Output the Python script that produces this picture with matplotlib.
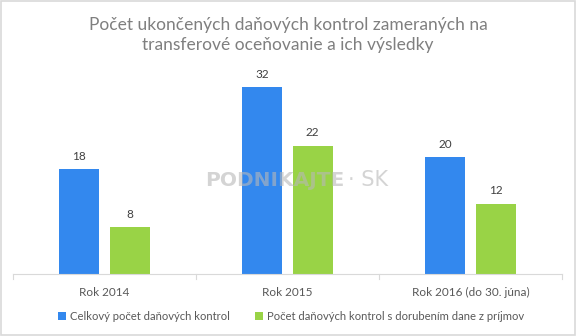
import matplotlib
matplotlib.use("Agg")
import matplotlib.pyplot as plt
from matplotlib.patches import Rectangle
import numpy as np

plt.rcParams['font.family'] = ['Lato', 'DejaVu Sans']

categories = ["Rok 2014", "Rok 2015", "Rok 2016 (do 30. júna)"]
series_names = ["Celkový počet daňových kontrol", "Počet daňových kontrol s dorubením dane z príjmov"]
total = [18, 32, 20]
with_tax = [8, 22, 12]
colors = ["#3388ee", "#99d346"]
title = "Počet ukončených daňových kontrol zameraných na\ntransferové oceňovanie a ich výsledky"

fig = plt.figure(figsize=(5.76, 3.36), dpi=100)
fig.patches.append(Rectangle((0.002, 0.003), 0.996, 0.994, transform=fig.transFigure,
                             fill=False, edgecolor="#d9d9d9", linewidth=1.2))
ax = fig.add_axes([13/576, 1-274/336, 549/576, (274-70)/336])

x = np.arange(len(categories))
w = 0.218
off = 0.137
b1 = ax.bar(x - off, total, w, color=colors[0], label=series_names[0])
b2 = ax.bar(x + off, with_tax, w, color=colors[1], label=series_names[1])
for bars in (b1, b2):
    for r in bars:
        ax.text(r.get_x() + r.get_width()/2, r.get_height() + 1.3, f"{int(r.get_height())}",
                ha="center", va="bottom", fontsize=8.5, color="#404040")

ax.set_xlim(-0.5, 2.5)
ax.set_ylim(0, 35)
ax.set_yticks([])
ax.set_xticks(x)
ax.set_xticklabels(categories, fontsize=8.5, color="#595959")
ax.tick_params(axis="x", length=0, pad=9)
for s in ["top", "right", "left"]:
    ax.spines[s].set_visible(False)
ax.spines["bottom"].set_color("#d9d9d9")
for b in [-0.5, 0.5, 1.5, 2.5]:
    ax.plot([b, b], [0, -0.9], color="#d9d9d9", lw=0.8, clip_on=False)

fig.text(0.5, 1-35/336, title, ha="center", va="center", fontsize=12.5,
         color="#7f7f7f", linespacing=1.25)

fig.legend(handles=[b1, b2], labels=series_names, loc="center", bbox_to_anchor=(0.505, 1-316/336),
           ncol=2, frameon=False, fontsize=8.1, labelcolor="#595959",
           handlelength=0.7, handleheight=0.7, handletextpad=0.4, columnspacing=2.2)

fig.text(0.598, 1-180/336, "PODNIKAJTE", ha="right", va="center", fontsize=14.5,
         fontweight="bold", family="DejaVu Sans", color="#b8b8b8", alpha=0.6)
fig.text(0.605, 1-180/336, "· SK", ha="left", va="center", fontsize=15,
         family="DejaVu Sans", color="#b8b8b8", alpha=0.6)

fig.savefig("out.png", dpi=100)
